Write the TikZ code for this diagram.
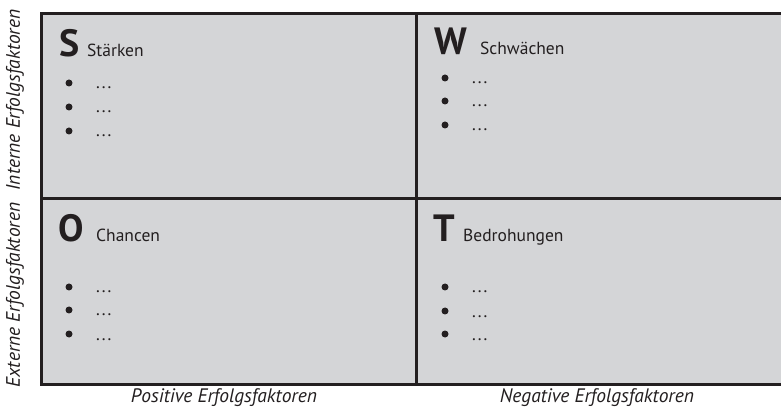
\documentclass[tikz,border=0pt]{standalone}
\usepackage{fontspec}
\setmainfont{PT Sans}
\begin{document}
\begin{tikzpicture}[x=1pt,y=-1pt,
  frame/.style={draw=linec,line width=3pt},
  bigletter/.style={anchor=base west,inner sep=0pt,font=\fontsize{38}{38}\selectfont\bfseries,text=linec},
  heading/.style={anchor=base west,inner sep=0pt,font=\fontsize{17.5}{17.5}\selectfont,text=linec},
  dotmark/.style={circle,fill=linec,inner sep=0pt,minimum size=7pt},
  ell/.style={anchor=base west,inner sep=0pt,font=\fontsize{17.5}{17.5}\selectfont,text=linec},
  axis/.style={inner sep=0pt,font=\fontsize{19.5}{19.5}\selectfont\itshape,text=linec}]
\definecolor{linec}{HTML}{231F20}
\definecolor{cellfill}{HTML}{D4D5D7}
\useasboundingbox (0,0) rectangle (781,411);
% quadrant grid
\fill[cellfill] (41,14) rectangle (781,384);
\draw[frame] (781,14) -- (41,14) -- (41,384) -- (781,384);
\draw[frame] (416,14) -- (416,384);
\draw[frame] (41,199) -- (781,199);
% S
\node[bigletter] (s) at (59,57) {S};
\node[heading] (sh) at (87,57) {Stärken};
\foreach \yy [count=\i] in {83,107,131}{
  \node[dotmark] (sd\i) at (69,\yy) {};
  \node[ell] (se\i) at (96,\yy+6) {.\kern2pt.\kern2pt.};
}
% W
\node[bigletter] (w) at (434,55) {W};
\node[heading] (wh) at (480,55) {Schwächen};
\foreach \yy [count=\i] in {78,101,125}{
  \node[dotmark] (wd\i) at (445,\yy) {};
  \node[ell] (we\i) at (472,\yy+6) {.\kern2pt.\kern2pt.};
}
% O
\node[bigletter] (o) at (58,242) {O};
\node[heading] (oh) at (96,242) {Chancen};
\foreach \yy [count=\i] in {287,310,334}{
  \node[dotmark] (od\i) at (69,\yy) {};
  \node[ell] (oe\i) at (96,\yy+6) {.\kern2pt.\kern2pt.};
}
% T
\node[bigletter] (t) at (433,242) {T};
\node[heading] (th) at (463,242) {Bedrohungen};
\foreach \yy [count=\i] in {287,311,334}{
  \node[dotmark] (td\i) at (445,\yy) {};
  \node[ell] (te\i) at (472,\yy+6) {.\kern2pt.\kern2pt.};
}
% axis labels
\node[axis,rotate=90] (ie) at (15,100) {Interne Erfolgsfaktoren};
\node[axis,rotate=90] (ee) at (15,295) {Externe Erfolgsfaktoren};
\node[axis] (pe) at (224,398) {Positive Erfolgsfaktoren};
\node[axis] (ne) at (597,398) {Negative Erfolgsfaktoren};
\end{tikzpicture}
\end{document}
